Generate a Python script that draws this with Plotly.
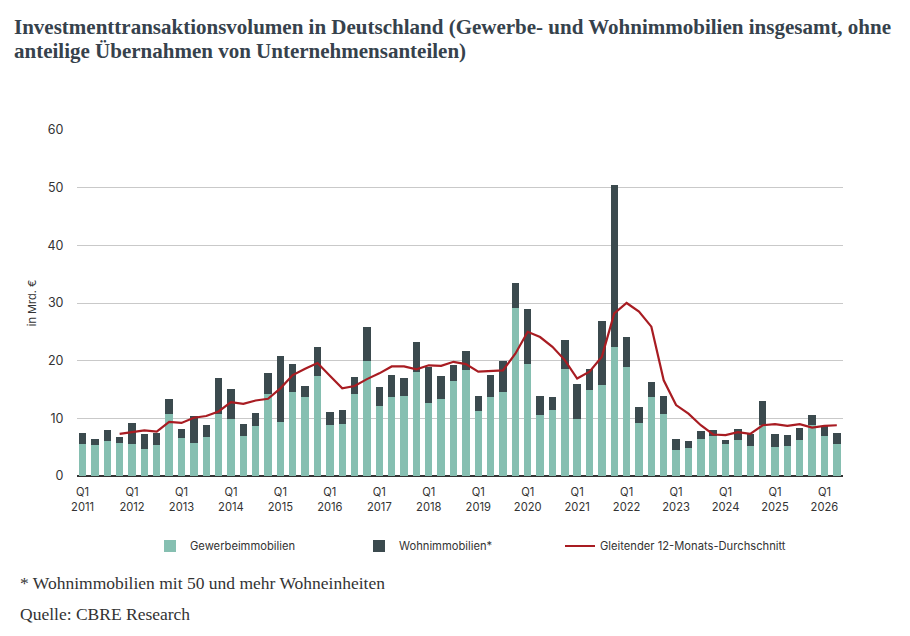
import plotly.graph_objects as go

years = list(range(2011, 2027))
quarters = [f"Q{q} {y}" for y in years for q in (1, 2, 3, 4)][:62]
tick_vals = [f"Q1 {y}" for y in years]
tick_text = [f"Q1<br>{y}" for y in years]

gewerbe = [5.6, 5.4, 6.1, 5.8,
           5.6, 4.6, 5.4, 10.8,
           6.6, 5.8, 6.8, 10.8,
           9.8, 6.9, 8.7, 14.3,
           9.4, 14.6, 13.7, 17.3,
           8.8, 9.1, 14.3, 20.0,
           12.1, 13.7, 13.9, 18.1,
           12.6, 13.3, 16.4, 18.3,
           11.2, 13.7, 14.5, 29.2,
           19.4, 10.6, 11.4, 18.5,
           9.8, 14.9, 15.7, 22.3,
           18.9, 9.2, 13.7, 10.8,
           4.5, 4.9, 6.4, 6.9,
           5.5, 6.2, 5.2, 8.8,
           5.0, 5.2, 6.2, 8.8,
           6.9, 5.5]

wohnen = [1.9, 1.1, 1.9, 1.0,
          3.6, 2.7, 2.1, 2.6,
          1.6, 4.6, 2.1, 6.2,
          5.3, 2.1, 2.3, 3.6,
          11.4, 4.8, 1.9, 5.0,
          2.3, 2.4, 2.8, 5.9,
          3.4, 3.9, 3.1, 5.1,
          6.3, 4.0, 2.9, 3.3,
          2.7, 3.8, 5.4, 4.2,
          9.6, 3.3, 2.3, 5.1,
          6.1, 3.7, 11.1, 28.2,
          5.2, 2.8, 2.6, 3.1,
          2.0, 1.1, 1.4, 1.1,
          0.8, 2.0, 2.1, 4.2,
          2.3, 1.9, 2.2, 1.7,
          1.8, 2.0]

gleitend = [None, None, None, 7.3,
            7.6, 7.9, 7.7, 9.4,
            9.2, 10.1, 10.4, 11.2,
            12.8, 12.5, 13.1, 13.4,
            15.2, 17.5, 18.6, 19.6,
            17.4, 15.2, 15.6, 16.8,
            17.8, 19.0, 19.0, 18.5,
            19.2, 19.1, 19.8, 19.4,
            18.1, 18.2, 18.3, 21.2,
            25.0, 24.1, 22.4, 20.1,
            16.9, 18.1, 20.7, 28.2,
            30.0, 28.5, 25.9, 16.6,
            12.3, 10.8, 8.8, 7.2,
            7.1, 7.6, 7.3, 8.8,
            9.0, 8.7, 9.0, 8.4,
            8.7, 8.8]

y_ticks = [0, 10, 20, 30, 40, 50, 60]

title_lines = ["Investmenttransaktionsvolumen in Deutschland (Gewerbe- und Wohnimmobilien insgesamt, ohne",
               "anteilige Übernahmen von Unternehmensanteilen)"]
footnotes = ["* Wohnimmobilien mit 50 und mehr Wohneinheiten", "Quelle: CBRE Research"]

GREEN = "#86bfb1"
DARK = "#3b4a4e"
RED = "#a81c22"
TXT = "#333333"
SANS = "Inter, Roboto, Arial, sans-serif"
SERIF = "Liberation Serif, Times New Roman, serif"

fig = go.Figure()
fig.add_trace(go.Bar(x=quarters, y=gewerbe, name="Gewerbeimmobilien",
                     marker=dict(color=GREEN, line=dict(width=0)), width=0.6,
                     legend="legend"))
fig.add_trace(go.Bar(x=quarters, y=wohnen, name="Wohnimmobilien*",
                     marker=dict(color=DARK, line=dict(width=0)), width=0.6,
                     legend="legend2"))
fig.add_trace(go.Scatter(x=quarters, y=gleitend, mode="lines",
                         name="Gleitender 12-Monats-Durchschnitt",
                         line=dict(color=RED, width=2.2), connectgaps=False,
                         legend="legend3"))

legend_common = dict(orientation="h", xref="container", yref="container",
                     yanchor="middle", xanchor="left", y=1 - 546 / 636,
                     font=dict(family=SANS, size=11.2, color=TXT),
                     bgcolor="rgba(0,0,0,0)", itemwidth=30)

fig.update_layout(
    width=910, height=636,
    paper_bgcolor="white", plot_bgcolor="white",
    barmode="stack",
    margin=dict(l=77, r=67, t=130, b=160),
    showlegend=True,
    legend=dict(x=150 / 910, **legend_common),
    legend2=dict(x=359 / 910, **legend_common),
    legend3=dict(x=560 / 910, **legend_common),
    xaxis=dict(type="category", range=[-0.45, 61.5],
               tickmode="array", tickvals=tick_vals, ticktext=tick_text,
               tickfont=dict(family=SANS, size=11.2, color=TXT),
               showgrid=False, showline=False, ticks="outside", ticklen=6,
               tickcolor="rgba(0,0,0,0)"),
    yaxis=dict(range=[0, 60], tickvals=y_ticks,
               tickfont=dict(family=SANS, size=12.5, color=TXT),
               showgrid=True, gridcolor="#c9c9c9", gridwidth=1,
               zeroline=True, zerolinecolor="#333333", zerolinewidth=1.6,
               showline=False, ticks="outside", ticklen=10, tickcolor="rgba(0,0,0,0)",
               title=dict(text="in Mrd. €", font=dict(family=SANS, size=11, color=TXT),
                          standoff=8)),
    bargap=0.4,
)

for text, py in zip(title_lines, [27, 51]):
    fig.add_annotation(text=f"<b>{text}</b>", xref="paper", yref="paper",
                       x=(12 - 77) / 766, y=(476 - py) / 346,
                       xanchor="left", yanchor="middle", showarrow=False,
                       font=dict(family=SERIF, size=21, color="#36424c"))

for text, py in zip(footnotes, [583, 614]):
    fig.add_annotation(text=text, xref="paper", yref="paper",
                       x=(18 - 77) / 766, y=(476 - py) / 346,
                       xanchor="left", yanchor="middle", showarrow=False,
                       font=dict(family=SERIF, size=17.5, color=TXT))

fig.write_html("out.html")
